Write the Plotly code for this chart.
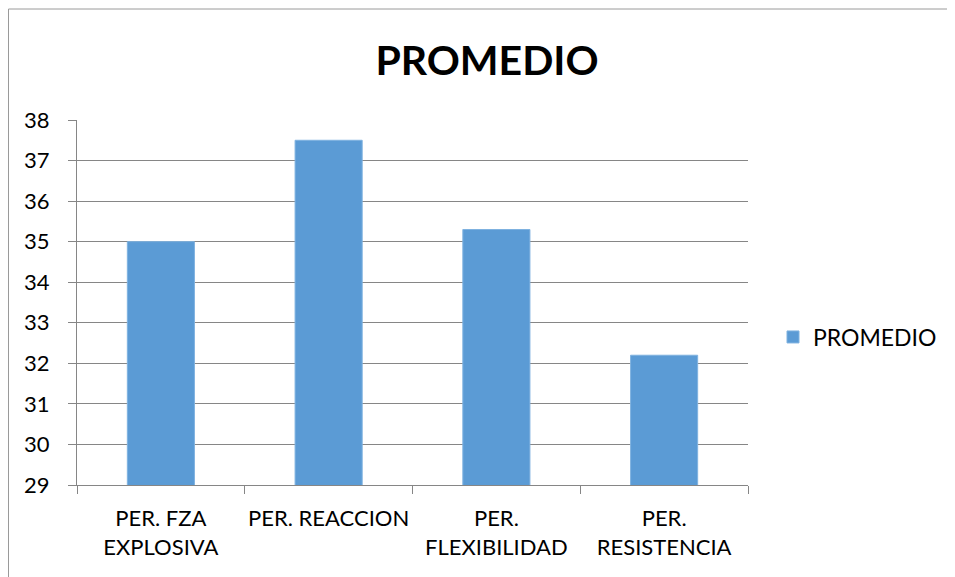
import plotly.graph_objects as go

categories = ["PER. FZA<br>EXPLOSIVA", "PER. REACCION", "PER.<br>FLEXIBILIDAD", "PER.<br>RESISTENCIA"]
values = [35.0, 37.5, 35.3, 32.2]
series_name = "PROMEDIO"
title_text = "PROMEDIO"

OFF = 8  # page body margin
W, H = 955 - OFF, 577 - OFF
# plot area in page pixels
PX0, PX1, PY0, PY1 = 77, 748, 120, 485
L, R, T, B = PX0 - OFF, W - (PX1 - OFF), PY0 - OFF, H - (PY1 - OFF)
pw, ph = PX1 - PX0, PY1 - PY0

def px_x(x):
    return (x - PX0) / pw

def px_y(y):
    return (PY1 - y) / ph

fig = go.Figure()
fig.add_trace(go.Bar(x=categories, y=values, name=series_name,
                     marker=dict(color="#5B9BD5", line=dict(color="#7FB2E0", width=1)),
                     showlegend=True))

fig.update_layout(
    width=W, height=H,
    margin=dict(l=L, r=R, t=T, b=B, autoexpand=False),
    paper_bgcolor="white", plot_bgcolor="white",
    font=dict(family="Lato, Carlito, Calibri, sans-serif", color="#000000", size=22),
    title=dict(text="<b>" + title_text + "</b>", x=px_x(487), xref="paper", xanchor="center",
               y=1 - (61 - OFF) / H, yanchor="middle", yref="container",
               font=dict(size=41, color="#000000")),
    bargap=0.6,
    showlegend=True,
    legend=dict(x=px_x(773), y=px_y(337), xanchor="left", yanchor="middle",
                font=dict(size=23), bgcolor="rgba(0,0,0,0)", itemwidth=30),
    xaxis=dict(showline=True, linecolor="#868686", linewidth=1,
               ticks="outside", tickson="boundaries", ticklen=8, tickcolor="#868686",
               showgrid=False, tickfont=dict(size=22), tickangle=0, ticklabelstandoff=14),
    yaxis=dict(range=[29, 38], dtick=1, tick0=29, showline=True, linecolor="#868686", linewidth=1,
               ticks="outside", ticklen=8, tickcolor="#868686",
               showgrid=True, gridcolor="#868686", gridwidth=1,
               tickfont=dict(size=22), ticklabelstandoff=14, zeroline=False),
    shapes=[dict(type="rect", xref="paper", yref="paper",
                 x0=px_x(8.5), x1=px_x(953), y0=px_y(600), y1=px_y(9),
                 line=dict(color="#9A9A9A", width=1), fillcolor="rgba(0,0,0,0)", layer="below")],
)

fig.write_html("out.html")
